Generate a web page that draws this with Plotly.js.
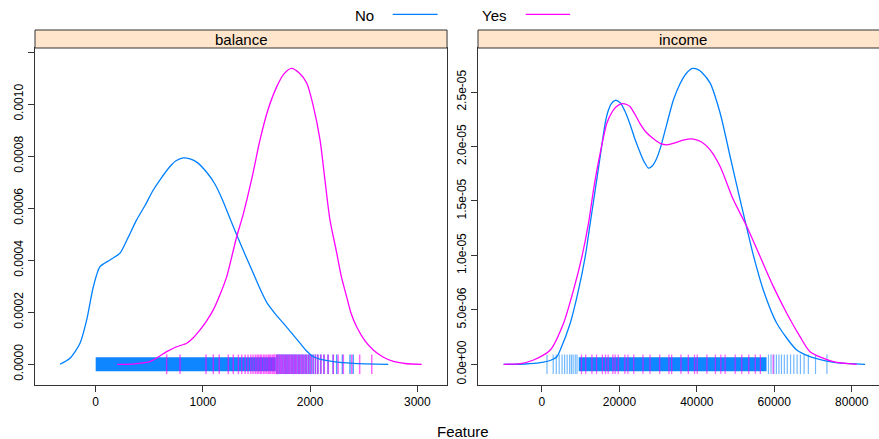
<!DOCTYPE html>
<html>
<head>
<meta charset="utf-8">
<script src="https://cdn.plot.ly/plotly-3.0.1.min.js"></script>
<style>html,body{margin:0;padding:0;background:#fff}</style>
</head>
<body>
<div id="chart" style="width:879px;height:439px"></div>
<script>
// ---- Data ----
const groups = ["No", "Yes"];
const panels = ["balance", "income"];

// density curves (balance)
const balanceX_No = [-333,-240,-146,-84,-22,40,133,227,300,382,460,530,600,693,749,817,880,945,1035,1113,1178,1253,1315,1393,1470,1533,1595,1673,1750,1828,1906,1968,2030,2120,2216,2403,2729];
const balanceY_No = [0,2.3e-5,8.1e-5,1.70e-4,2.98e-4,3.75e-4,4.01e-4,4.27e-4,4.85e-4,5.55e-4,6.1e-4,6.65e-4,7.09e-4,7.6e-4,7.82e-4,7.93e-4,7.89e-4,7.76e-4,7.38e-4,6.92e-4,6.36e-4,5.6e-4,4.98e-4,4.22e-4,3.5e-4,2.9e-4,2.38e-4,1.95e-4,1.58e-4,1.2e-4,8.1e-5,5.1e-5,2.9e-5,1.65e-5,1.0e-5,3.8e-6,0];
const balanceX_Yes = [201,367,507,662,749,849,908,973,1035,1097,1159,1222,1315,1377,1458,1533,1607,1688,1756,1828,1896,1968,2027,2092,2138,2185,2248,2288,2341,2381,2435,2512,2589,2680,2776,2885,3041];
const balanceY_Yes = [0,1.9e-6,1.0e-5,4.85e-5,6.65e-5,8.08e-5,1.01e-4,1.32e-4,1.67e-4,2.09e-4,2.67e-4,3.37e-4,4.90e-4,5.78e-4,7.17e-4,8.63e-4,9.78e-4,1.066e-3,1.116e-3,1.137e-3,1.120e-3,1.081e-3,9.97e-4,8.63e-4,7.09e-4,5.55e-4,4.28e-4,3.43e-4,2.59e-4,1.97e-4,1.43e-4,8.96e-5,5.5e-5,2.8e-5,1.08e-5,3.1e-6,0];

// density curves (income)
const incomeX_No = [-9910,-4310,-439,2142,3871,4722,7300,9445,11174,12464,13755,15045,16335,17109,17884,18916,20206,21496,22787,24077,25367,26399,27509,28464,29496,30529,32258,33960,35664,37212,38864,40335,41367,43433,46012,48593,51174,52903,54606,57187,60645,65806,69237,73547,76980,83430];
const incomeY_No = [0,3e-8,1.5e-7,3.5e-7,7e-7,1.31e-6,3.77e-6,6.83e-6,9.89e-6,1.296e-5,1.602e-5,1.908e-5,2.215e-5,2.328e-5,2.392e-5,2.424e-5,2.401e-5,2.318e-5,2.199e-5,2.061e-5,1.942e-5,1.859e-5,1.801e-5,1.82e-5,1.88e-5,1.98e-5,2.208e-5,2.429e-5,2.576e-5,2.668e-5,2.717e-5,2.705e-5,2.677e-5,2.582e-5,2.307e-5,1.908e-5,1.510e-5,1.25e-5,1.0e-5,6.8e-6,3.77e-6,1.31e-6,7e-7,3e-7,1e-7,0];
const incomeX_Yes = [-9910,-5600,-2168,2142,5574,8155,10322,12026,13316,14864,16774,18142,19174,20645,22013,22787,24077,25367,26915,28800,30529,32258,34400,36722,39122,41109,43433,46012,49445,52903,56335,59767,63225,66657,69237,75250,81290];
const incomeY_Yes = [0,7e-8,3.95e-7,1.31e-6,3.77e-6,6.83e-6,9.89e-6,1.296e-5,1.602e-5,1.908e-5,2.215e-5,2.319e-5,2.365e-5,2.393e-5,2.383e-5,2.365e-5,2.291e-5,2.208e-5,2.130e-5,2.071e-5,2.029e-5,2.015e-5,2.034e-5,2.061e-5,2.068e-5,2.043e-5,1.969e-5,1.816e-5,1.510e-5,1.265e-5,9.89e-6,7.13e-6,4.69e-6,2.54e-6,1.16e-6,2.4e-7,0];

// rug: dense ranges of observations and individual sparse observations
const balanceRange_No = [0, 1680];
const balanceRug_No = [1688,1697,1709,1716,1728,1739,1747,1758,1770,1779,1791,1802,1811,1824,1833,1846,1857,1866,1879,1891,1903,1914,1928,1941,1955,1968,1983,1997,2012,2030,2049,2071,2098,2128,2167,2214,2248,2301,2372,2402];
const balanceRug_Yes = [662,787,1029,1097,1152,1237,1283,1331,1362,1394,1421,1447,1468,1489,1506,1521,1537,1548,1566,1579,1596,1611,1623,1634,1649,1661,1670,1686,1698,1709,1723,1736,1746,1761,1773,1784,1798,1811,1823,1836,1851,1863,1874,1891,1904,1921,1934,1951,1967,1986,2004,2026,2051,2074,2102,2131,2168,2216,2261,2310,2388,2462,2575];
const incomeRange_No = [9500, 58000];
const incomeRug_No = [1300,2900,3700,4450,5200,5850,6500,7150,7600,8050,8600,9050,58500,59150,59900,60550,61200,61850,62600,63350,64200,65050,65900,66750,67700,68800,70650,73600];
const incomeRug_Yes = [10200,11300,12900,14100,15600,16400,17100,18300,18900,19700,21400,22200,23700,26100,27900,30400,32800,33500,35900,37800,39400,40100,42600,44800,46200,47300,49900,51600,53400,55100,56400,59700];

// axis ticks
const balanceTicks = [0, 1000, 2000, 3000];
const incomeTicks = [0, 20000, 40000, 60000, 80000];
const balanceYTicks = [0, 0.0002, 0.0004, 0.0006, 0.0008, 0.0010, 0.0012];
const balanceYLabels = ["0.0000", "0.0002", "0.0004", "0.0006", "0.0008", "0.0010", ""];
const incomeYTicks = [0, 5e-6, 1e-5, 1.5e-5, 2e-5, 2.5e-5];
const incomeYLabels = ["0.0e+00", "5.0e-06", "1.0e-05", "1.5e-05", "2.0e-05", "2.5e-05"];

// ---- Styling ----
const colNo = "#0080ff", colYes = "#ff00ff";
const FONT = "Liberation Sans, Arial, sans-serif";
const axCol = "#333333";

function rugBand(range, xa, ya, col) {
  return {x: range, y: range.map(() => 0), xaxis: xa, yaxis: ya, mode: "lines",
    line: {color: col, width: 14}, opacity: 0.95, hoverinfo: "skip", showlegend: false};
}
function rugTicks(vals, xa, ya, col, op, w) {
  return {x: vals, y: vals.map(() => 0), xaxis: xa, yaxis: ya, mode: "markers",
    marker: {symbol: "line-ns", size: 14, color: col, line: {color: col, width: w}},
    opacity: op, hoverinfo: "skip", showlegend: false};
}
function curve(x, y, xa, ya, col) {
  return {x: x, y: y, xaxis: xa, yaxis: ya, mode: "lines",
    line: {color: col, width: 1.3, shape: "spline", smoothing: 0.7}, hoverinfo: "skip", showlegend: false};
}

const data = [
  rugBand(balanceRange_No, "x", "y", colNo),
  rugTicks(balanceRug_No, "x", "y", colNo, 0.7, 1.5),
  rugTicks(balanceRug_Yes, "x", "y", colYes, 0.6, 1.5),
  curve(balanceX_No, balanceY_No, "x", "y", colNo),
  curve(balanceX_Yes, balanceY_Yes, "x", "y", colYes),
  rugBand(incomeRange_No, "x2", "y2", colNo),
  rugTicks(incomeRug_No, "x2", "y2", colNo, 0.55, 1.2),
  rugTicks(incomeRug_Yes, "x2", "y2", colYes, 0.6, 1.3),
  curve(incomeX_No, incomeY_No, "x2", "y2", colNo),
  curve(incomeX_Yes, incomeY_Yes, "x2", "y2", colYes)
];

const axBase = {showgrid: false, zeroline: false, showline: true, linecolor: axCol, linewidth: 1,
  ticks: "outside", ticklen: 6, tickcolor: axCol, tickwidth: 1,
  tickfont: {family: FONT, size: 12, color: "#000"}};

const stripTop = 1 + 18 / 337;
const layout = {
  width: 879, height: 439,
  margin: {l: 35, r: 0, t: 48, b: 54},
  paper_bgcolor: "#fff", plot_bgcolor: "#fff",
  showlegend: false,
  font: {family: FONT, color: "#000"},
  xaxis: Object.assign({}, axBase, {domain: [0, 0.4882], range: [-566, 3277], tickvals: balanceTicks, ticktext: balanceTicks.map(String), mirror: true, anchor: "y"}),
  yaxis: Object.assign({}, axBase, {domain: [0, 1], range: [-0.0000796, 0.0012154], tickvals: balanceYTicks, ticktext: balanceYLabels, tickangle: -90, mirror: true, anchor: "x"}),
  xaxis2: Object.assign({}, axBase, {domain: [0.5249, 1], range: [-16516, 87045], tickvals: incomeTicks, ticktext: incomeTicks.map(String), mirror: true, anchor: "y2"}),
  yaxis2: Object.assign({}, axBase, {domain: [0, 1], range: [-1.9e-6, 2.904e-5], tickvals: incomeYTicks, ticktext: incomeYLabels, tickangle: -90, anchor: "x2"}),
  shapes: [
    {type: "rect", xref: "paper", yref: "paper", x0: 0, x1: 0.4882, y0: 1, y1: stripTop, fillcolor: "#ffe5cc", line: {color: axCol, width: 1}},
    {type: "rect", xref: "paper", yref: "paper", x0: 0.5249, x1: 1.02, y0: 1, y1: stripTop, fillcolor: "#ffe5cc", line: {color: axCol, width: 1}},
    {type: "line", xref: "paper", yref: "paper", x0: 0.4238, x1: 0.4771, y0: 1.1, y1: 1.1, line: {color: colNo, width: 1.3}},
    {type: "line", xref: "paper", yref: "paper", x0: 0.5814, x1: 0.6339, y0: 1.1, y1: 1.1, line: {color: colYes, width: 1.3}}
  ],
  annotations: [
    {text: panels[0], xref: "paper", yref: "paper", x: 0.2441, y: 1.0267, showarrow: false, font: {family: FONT, size: 15}, xanchor: "center", yanchor: "middle"},
    {text: panels[1], xref: "paper", yref: "paper", x: 0.7678, y: 1.0267, showarrow: false, font: {family: FONT, size: 15}, xanchor: "center", yanchor: "middle"},
    {text: groups[0], xref: "paper", yref: "paper", x: 0.3904, y: 1.0979, showarrow: false, font: {family: FONT, size: 15}, xanchor: "center", yanchor: "middle"},
    {text: groups[1], xref: "paper", yref: "paper", x: 0.5438, y: 1.0979, showarrow: false, font: {family: FONT, size: 15}, xanchor: "center", yanchor: "middle"},
    {text: "Feature", xref: "paper", yref: "paper", x: 0.5071, y: -0.1365, showarrow: false, font: {family: FONT, size: 15}, xanchor: "center", yanchor: "middle"}
  ]
};

Plotly.newPlot("chart", data, layout, {staticPlot: true, displayModeBar: false});
</script>
</body>
</html>
